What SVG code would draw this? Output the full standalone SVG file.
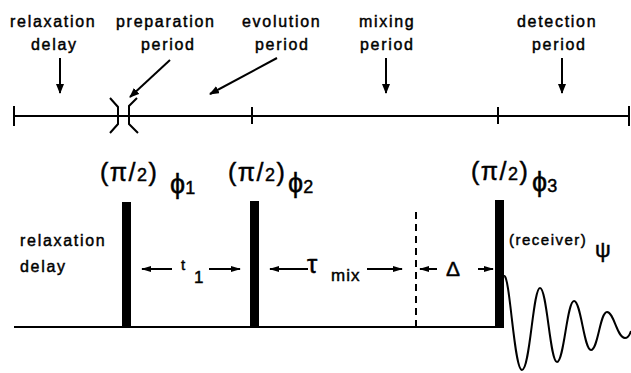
<svg xmlns="http://www.w3.org/2000/svg" width="631" height="373" viewBox="0 0 631 373">
<style>
text{font-family:"Liberation Sans",Arial,sans-serif;fill:#000;stroke:#000;stroke-width:0.45px}
.lbl{font-size:16px;letter-spacing:1.7px}
.ln{stroke:#000;stroke-width:2;fill:none}
.ar{stroke:#000;stroke-width:2;fill:none;marker-end:url(#ah)}
.sa{stroke:#000;stroke-width:2;fill:none;marker-end:url(#sh)}
.pi{font-size:25px;letter-spacing:1.5px}
.phi{font-size:27px}
</style>
<defs>
<marker id="ah" markerUnits="userSpaceOnUse" markerWidth="10" markerHeight="8" refX="9" refY="4" orient="auto"><path d="M0,0 L10,4 L0,8 Z" fill="#000"/></marker>
<marker id="sh" markerUnits="userSpaceOnUse" markerWidth="10" markerHeight="6" refX="9" refY="3" orient="auto"><path d="M0,0 L10,3 L0,6 Z" fill="#000"/></marker>
</defs>
<rect width="631" height="373" fill="#fff"/>

<g id="timeline">
<path class="ln" d="M14,116 L630,116"/>
<path class="ln" d="M14,106 L14,126 M252,107 L252,124 M498,107 L498,124 M629,106 L629,126"/>
<path class="ln" d="M110,98 L118,107 L118,124 L110,133 M137,98 L129,106 L129,124 L138,133"/>
</g>

<g id="relaxation-top">
<text class="lbl" x="10" y="27">relaxation</text>
<text class="lbl" x="31" y="50">delay</text>
</g>
<g id="preparation">
<text class="lbl" x="116" y="27">preparation</text>
<text class="lbl" x="141" y="50">period</text>
</g>
<g id="evolution">
<text class="lbl" x="242" y="27">evolution</text>
<text class="lbl" x="255" y="50">period</text>
</g>
<g id="mixing">
<text class="lbl" x="359" y="27">mixing</text>
<text class="lbl" x="360" y="50">period</text>
</g>
<g id="detection">
<text class="lbl" x="517" y="27">detection</text>
<text class="lbl" x="532" y="50">period</text>
</g>

<g id="connectors">
<path class="ar" d="M60,58 L60,93"/>
<path class="ar" d="M170,60 L130,97"/>
<path class="ar" d="M277,58 L210,94"/>
<path class="ar" d="M386,58 L386,93"/>
<path class="ar" d="M562,58 L562,93"/>
<path class="sa" d="M172,269 L142,269"/>
<path class="sa" d="M209,269 L240,269"/>
<path class="sa" d="M308,269 L270,269"/>
<path class="sa" d="M367,269 L402,269"/>
<path class="sa" d="M437,269 L420,269"/>
<path class="sa" d="M478,269 L493,269"/>
</g>

<g id="sequence">
<path class="ln" d="M14,327 L498,327"/>
<rect x="122" y="202" width="9" height="126" fill="#000"/>
<rect x="250" y="201" width="9" height="127" fill="#000"/>
<rect x="495" y="200" width="9" height="128" fill="#000"/>
<path d="M416,212 L416,327" stroke="#000" stroke-width="2" stroke-dasharray="7 5"/>
<path class="ln" d="M504,276 C510,274 514,370 522,370 C530,370 533,288 540,288 C547,288 550,362 557,362 C564,362 567,301 574,301 C581,301 584,350 591,350 C598,350 600,312 607,312 C614,312 617,338 625,338 C628,338 630,334 631,331"/>
</g>

<g id="pulse1-label">
<text class="pi" x="100" y="181">(π/<tspan font-size="18">2</tspan>)</text>
<text class="phi" x="170" y="193">ϕ<tspan font-size="18" dy="1">1</tspan></text>
</g>
<g id="pulse2-label">
<text class="pi" x="228" y="181">(π/<tspan font-size="18">2</tspan>)</text>
<text class="phi" x="288" y="192">ϕ<tspan font-size="18" dy="1">2</tspan></text>
</g>
<g id="pulse3-label">
<text class="pi" x="471" y="180">(π/<tspan font-size="18">2</tspan>)</text>
<text class="phi" x="532" y="191">ϕ<tspan font-size="18" dy="1">3</tspan></text>
</g>

<g id="relaxation-bottom">
<text class="lbl" x="20" y="246">relaxation</text>
<text class="lbl" x="20" y="272">delay</text>
</g>
<g id="t1">
<text font-size="15" x="181" y="270">t</text>
<text font-size="17" x="194" y="283">1</text>
</g>
<g id="tmix">
<text font-size="26" x="307" y="273">τ</text>
<text font-size="17" x="331" y="281" letter-spacing="1">mix</text>
</g>
<g id="delta">
<text font-size="21" x="446" y="276">Δ</text>
</g>
<g id="receiver">
<text font-size="15" x="509" y="245" letter-spacing="1.5">(receiver)</text>
<text font-size="22" x="595" y="257">ψ</text>
</g>
</svg>
